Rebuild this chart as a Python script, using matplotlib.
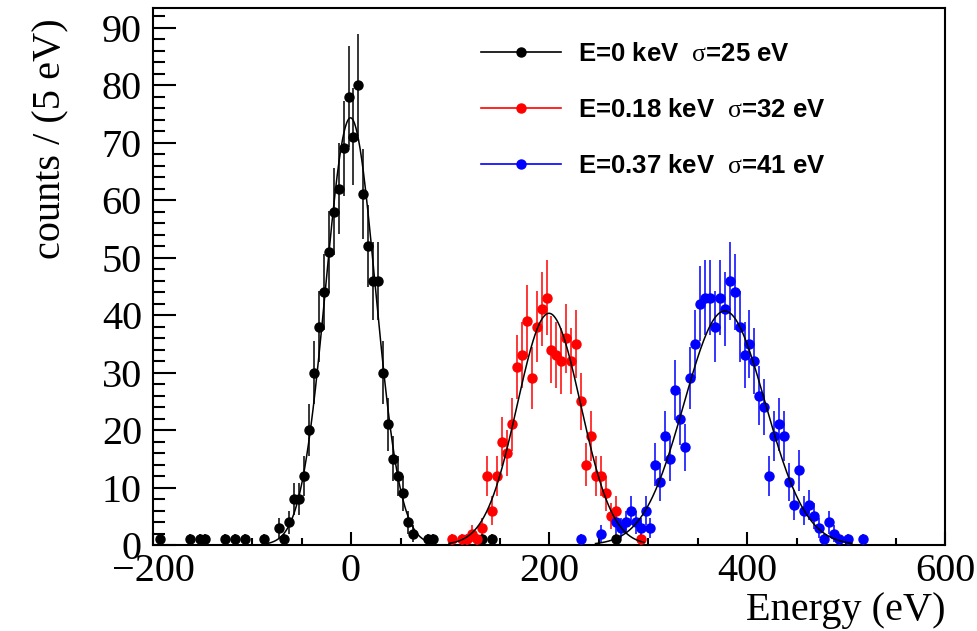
import numpy as np
import matplotlib
matplotlib.use("Agg")
import matplotlib.pyplot as plt
from matplotlib.lines import Line2D
from matplotlib.ticker import MultipleLocator


# bin centres (eV) and counts per 5 eV bin
black_x = [-192.5, -162.5, -152.5, -147.5, -127.5, -117.5, -107.5, -87.5,
           -72.5, -67.5, -62.5, -57.5, -52.5, -47.5, -42.5, -37.5, -32.5,
           -27.5, -22.5, -17.5, -12.5, -7.5, -2.5, 2.5, 7.5, 12.5, 17.5,
           22.5, 27.5, 32.5, 37.5, 42.5, 47.5, 52.5, 57.5, 62.5, 77.5, 82.5,
           132.5, 142.5, 267.5]
black_y = [1, 1, 1, 1, 1, 1, 1, 1,
           3, 1, 4, 8, 8, 12, 20, 30, 38,
           44, 51, 58, 62, 69, 78, 71, 80, 61, 52,
           46, 46, 30, 21, 15, 12, 9, 4, 2, 1, 1,
           1, 1, 1]

red_x = [102.5, 112.5, 117.5, 122.5, 127.5, 132.5, 137.5, 142.5, 147.5,
         152.5, 157.5, 162.5, 167.5, 172.5, 177.5, 182.5, 187.5, 192.5,
         197.5, 202.5, 207.5, 212.5, 217.5, 222.5, 227.5, 232.5, 237.5,
         242.5, 247.5, 252.5, 257.5, 262.5, 267.5, 292.5]
red_y = [1, 1, 1, 2, 1, 3, 12, 6, 12,
         18, 16, 21, 31, 33, 39, 29, 38, 41,
         43, 34, 33, 32, 36, 32, 35, 25, 14,
         19, 12, 12, 9, 5, 6, 1]

blue_x = [232.5, 252.5, 267.5, 272.5, 277.5, 282.5, 287.5, 292.5, 297.5,
          302.5, 307.5, 312.5, 317.5, 322.5, 327.5, 332.5, 337.5, 342.5,
          347.5, 352.5, 357.5, 362.5, 367.5, 372.5, 377.5, 382.5, 387.5,
          392.5, 397.5, 402.5, 407.5, 412.5, 417.5, 422.5, 427.5, 432.5,
          437.5, 442.5, 447.5, 452.5, 457.5, 462.5, 467.5, 472.5, 477.5,
          482.5, 487.5, 492.5, 502.5, 517.5]
blue_y = [1, 2, 4, 3, 4, 6, 4, 3, 6,
          3, 14, 11, 19, 15, 27, 22, 17, 29,
          35, 42, 43, 43, 38, 43, 41, 46, 44,
          38, 33, 35, 32, 26, 24, 12, 19, 21,
          19, 11, 7, 13, 6, 7, 5, 3, 1,
          4, 2, 1, 1, 1]

# gaussian fits: amplitude, mean, sigma, fit range
black_fit = (74.3, -0.5, 25.0, -86.0, 82.0)
red_fit = (40.3, 200.0, 32.0, 99.0, 296.0)
blue_fit = (40.7, 377.5, 41.0, 247.0, 506.0)

labels = [
    r"E=0 keV  $\mathrm{\sigma}$=25 eV",
    r"E=0.18 keV  $\mathrm{\sigma}$=32 eV",
    r"E=0.37 keV  $\mathrm{\sigma}$=41 eV",
]
colors = ["black", "red", "blue"]

plt.rcParams["font.family"] = ["Liberation Serif", "DejaVu Serif"]
plt.rcParams["mathtext.fontset"] = "custom"
plt.rcParams["mathtext.rm"] = "Liberation Serif"


def gauss_curve(fit):
    amp, mu, sig, lo, hi = fit
    xx = np.linspace(lo, hi, 400)
    return xx, amp * np.exp(-0.5 * ((xx - mu) / sig) ** 2)


def main():
    fig = plt.figure(figsize=(9.77, 6.31), dpi=100)
    ax = fig.add_axes([153 / 977, 1 - 545 / 631, 792 / 977, 537 / 631])

    series = [(black_x, black_y, black_fit),
              (red_x, red_y, red_fit),
              (blue_x, blue_y, blue_fit)]
    for (xs, ys, fit), c in zip(series, colors):
        ys = np.array(ys, dtype=float)
        ax.errorbar(xs, ys, yerr=np.sqrt(ys), fmt="o", color=c, ms=6.5,
                    elinewidth=1.1, capsize=0, zorder=3)
        fx, fy = gauss_curve(fit)
        ax.plot(fx, fy, color="black", lw=1.1, zorder=4)

    ax.set_xlim(-200, 600)
    ax.set_ylim(0, 93.4)

    ax.xaxis.set_major_locator(MultipleLocator(200))
    ax.xaxis.set_minor_locator(MultipleLocator(50))
    ax.yaxis.set_major_locator(MultipleLocator(10))
    ax.yaxis.set_minor_locator(MultipleLocator(2))

    ax.tick_params(axis="both", which="both", direction="in",
                   top=False, right=False, labelsize=29, width=1.5)
    ax.tick_params(axis="y", which="major", length=16.5, pad=8)
    ax.tick_params(axis="y", which="minor", length=8.5)
    ax.tick_params(axis="x", which="major", length=9.5, pad=6)
    ax.tick_params(axis="x", which="minor", length=5)
    for sp in ax.spines.values():
        sp.set_linewidth(1.5)

    ax.set_xlabel("Energy (eV)", fontsize=29, loc="right")
    ax.xaxis.set_label_coords(1.0, -0.088)
    ax.set_ylabel("counts / (5 eV)", fontsize=29, loc="top")
    ax.yaxis.set_label_coords(-0.105, 0.98)

    handles = [Line2D([], [], color=c, marker="o", ms=6.5, lw=1.2)
               for c in colors]
    ax.legend(handles, labels, loc="upper left",
              bbox_to_anchor=(481 / 977, 1 - 42 / 631),
              bbox_transform=fig.transFigure, frameon=False,
              borderpad=0, borderaxespad=0, handlelength=3.1,
              handletextpad=0.66, labelspacing=1.25,
              prop={"family": "Liberation Sans", "weight": "bold",
                    "size": 18.5})

    fig.savefig("out.png", dpi=100)
    plt.close(fig)


if __name__ == "__main__":
    main()
